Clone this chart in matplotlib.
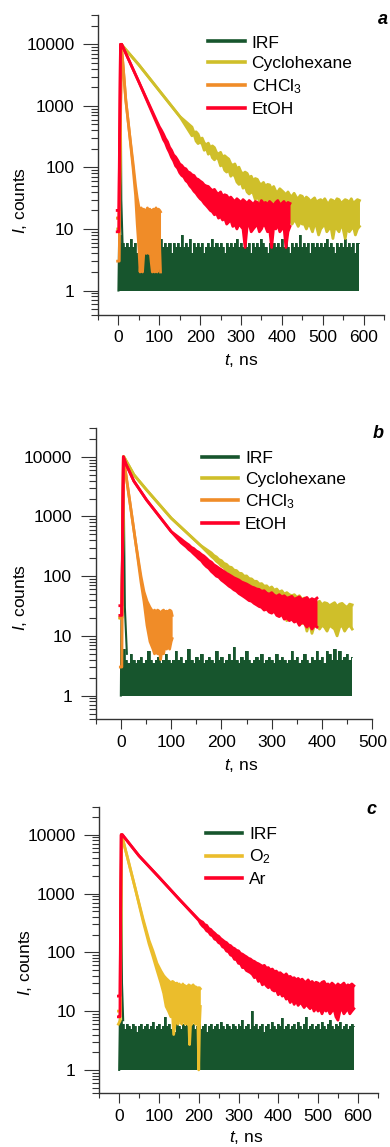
import numpy as np
import matplotlib
matplotlib.use('Agg')
import matplotlib.pyplot as plt
from matplotlib.ticker import MultipleLocator, LogLocator, NullFormatter, FixedLocator, FixedFormatter

plt.rcParams['font.family'] = ['Liberation Sans', 'DejaVu Sans']
plt.rcParams['mathtext.fontset'] = 'custom'
plt.rcParams['mathtext.rm'] = 'Liberation Sans'
plt.rcParams['mathtext.it'] = 'Liberation Sans:italic'
plt.rcParams['mathtext.bf'] = 'Liberation Sans:bold'

FS = 12.5

# colours
C_IRF = '#17552d'
C_CYC = '#cfbf2a'
C_CHCL3 = '#f08c28'
C_ETOH = '#ff0028'
C_O2 = '#ebbd2c'
C_AR = '#ff0028'

# ---------------- panel a ----------------
# IRF upper edge every 5 ns from 0 to 590 ns (lower edge is 1 count)
irf_a_hi = [3, 8, 6, 5, 6, 5, 7, 5, 6, 4, 5, 6, 5, 7, 5, 6, 5, 4, 6, 5,
            6, 7, 5, 6, 5, 6, 4, 6, 5, 6, 5, 8, 5, 6, 5, 7, 4, 6, 5, 6,
            5, 6, 4, 5, 6, 5, 7, 5, 6, 5, 6, 5, 4, 6, 5, 6, 5, 6, 7, 5,
            6, 5, 9, 5, 6, 4, 6, 5, 6, 5, 7, 6, 5, 4, 6, 5, 6, 5, 6, 5,
            7, 5, 6, 5, 4, 6, 5, 6, 5, 8, 5, 6, 5, 6, 4, 6, 5, 6, 5, 6,
            5, 6, 7, 5, 6, 5, 4, 6, 5, 6, 5, 7, 5, 6, 5, 6, 4, 6, 6]
irf_a_peak_t = [0, 3, 5, 7, 10]
irf_a_peak_v = [1, 30, 10000, 30, 6]

cyc_a_t = [-2, 2, 7, 50, 100, 150,
           180, 185, 190, 195, 200, 205, 210, 215, 220, 225, 230, 235, 240, 245,
           250, 255, 260, 265, 270, 275, 280, 285, 290, 295, 300, 305, 310, 315,
           320, 325, 330, 335, 340, 345, 350, 355, 360, 365, 370, 375, 380, 385,
           390, 395, 400, 405, 410, 415, 420, 425, 430, 435, 440, 445, 450, 455,
           460, 465, 470, 475, 480, 485, 490, 495, 500, 505, 510, 515, 520, 525,
           530, 535, 540, 545, 550, 555, 560, 565, 570, 575, 580, 585, 590]
cyc_a_hi = [15, 15, 10000, 4650, 1770, 675,
            453, 367, 379, 348, 284, 300, 250, 234, 248, 209, 224, 210, 175, 165,
            176, 147, 155, 145, 137, 115, 108, 114, 95, 101, 84, 79, 84, 80,
            68, 72, 61, 66, 64, 55, 53, 57, 49, 53, 52, 44, 49, 41,
            40, 45, 42, 39, 36, 40, 35, 34, 38, 33, 31, 35, 34, 29,
            33, 31, 28, 30, 32, 27, 29, 30, 28, 31, 27, 26, 30, 29,
            27, 31, 30, 26, 28, 30, 29, 27, 31, 26, 28, 30, 29]
cyc_a_lo = [10, 10, 10000, 4650, 1770, 675,
            327, 348, 269, 244, 259, 240, 190, 207, 164, 180, 144, 133, 146, 135,
            106, 114, 90, 84, 92, 72, 78, 72, 58, 53, 58, 46, 50, 40,
            37, 40, 38, 30, 35, 28, 30, 24, 23, 25, 24, 19, 22, 17.5,
            20, 16, 16, 14, 15, 13, 15, 12, 14, 13, 11, 13, 12, 12,
            10, 12, 11, 9, 12, 11, 8, 10, 11, 12, 9, 10, 11, 7,
            11, 10, 9, 12, 10, 7, 11, 9, 10, 11, 8, 10, 11]

chcl3_a_t = [-2, 2, 7, 12, 18, 27, 36, 42, 46, 50, 53, 56, 59, 62, 65, 68, 71, 74,
             77, 80, 83, 86, 89, 92, 95, 98, 101, 103]
chcl3_a_hi = [15, 15, 10000, 4000, 1250, 360, 115, 50, 32, 23, 20, 22, 19, 21, 18, 20, 22, 19,
              21, 18, 20, 21, 19, 22, 18, 21, 20, 19]
chcl3_a_lo = [3, 3, 10000, 4000, 1250, 360, 95, 35, 12, 5, 2, 4, 2, 4, 5, 4, 6, 4,
              5, 3, 2, 3, 2, 4, 2, 3, 5, 2]

etoh_a_t = [-3, 1, 5, 8, 50,
            100, 105, 110, 115, 120, 125, 130, 135, 140, 145, 150, 155, 160, 165,
            170, 175, 180, 185, 190, 195, 200, 205, 210, 215, 220, 225, 230, 235,
            240, 245, 250, 255, 260, 265, 270, 275, 280, 285, 290, 295, 300, 305,
            310, 315, 320, 325, 330, 335, 340, 345, 350, 355, 360, 365, 370, 375,
            380, 385, 390, 395, 400, 405, 410, 415, 420]
etoh_a_hi = [20, 20, 10000, 10000, 2450,
             460, 405, 350, 296, 262, 214, 190, 160, 148, 131,
             114, 108, 98, 95, 85, 82, 76, 74, 66, 64,
             60, 57, 52, 50, 49, 45, 42, 44, 39, 37,
             40, 34, 36, 35, 31, 33, 30, 28, 31, 29,
             27, 30, 28, 26, 29, 27, 25, 28, 27, 24,
             29, 26, 27, 25, 28, 26, 24, 27, 29, 25,
             26, 28, 25, 27, 26]
etoh_a_lo = [9, 9, 10000, 10000, 2450,
             420, 350, 285, 250, 205, 176, 146, 128, 106, 97,
             82, 74, 70, 61, 57, 50, 46, 41, 38, 34,
             31, 29, 26, 24, 22, 20, 19, 17, 18, 15,
             16, 14, 15, 12, 13, 14, 11, 12, 10, 12,
             11, 10, 5, 11, 12, 9, 10, 11, 12, 9,
             10, 12, 11, 9, 10, 5, 11, 10, 12, 9,
             10, 11, 5, 9, 11]

# ---------------- panel b ----------------
irf_b_hi = [3, 6, 4, 3.5, 5, 4, 3.5, 4, 4.5, 3.5, 4, 5.5, 4, 3.5, 4, 4.5, 3.5, 4, 5, 4,
            3.5, 4, 5.5, 4, 4.5, 3.5, 4, 6, 4, 3.5, 4.5, 4, 5, 3.5, 4, 4.5, 4, 3.5, 5.5, 4,
            4.5, 3.5, 4, 5, 4, 6.5, 4, 3.5, 4.5, 4, 5.5, 4, 3.5, 4, 4.5, 4, 5, 3.5, 4, 4.5,
            4, 3.5, 5, 4, 4.5, 4, 3.5, 4, 5.5, 4, 4.5, 3.5, 4, 5, 4, 3.5, 4.5, 4, 5.5, 4,
            4.5, 3.5, 5.5, 5, 4, 6, 4, 5.5, 4, 4.5, 5, 4, 4.5]
irf_b_peak_t = [0, 2, 5, 8, 12]
irf_b_peak_v = [1, 100, 10000, 30, 5]

cyc_b_t = [-2, 2, 6, 26, 51, 100, 158,
           180, 185, 190, 195, 200, 205, 210, 215, 220, 225, 230, 235, 240, 245,
           250, 255, 260, 265, 270, 275, 280, 285, 290, 295, 300, 305, 310, 315,
           320, 325, 330, 335, 340, 345, 350, 355, 360, 365, 370, 375, 380, 385,
           390, 395, 400, 405, 410, 415, 420, 425, 430, 435, 440, 445, 450, 455, 460]
cyc_b_hi = [20, 20, 10000, 5000, 2800, 940, 330,
            245, 222, 210, 190, 182, 164, 158, 143, 140, 126,
            124, 112, 111, 100, 101, 91, 90, 82, 82, 74,
            75, 68, 69, 62, 66, 58, 61, 54, 57, 50,
            53, 49, 47, 49, 44, 47, 41, 43, 40, 38,
            40, 36, 35, 38, 33, 36, 35, 32, 34, 36,
            31, 34, 35, 32, 30, 34, 33]
cyc_b_lo = [20, 20, 10000, 5000, 2800, 940, 330,
            215, 198, 178, 165, 148, 140, 123, 118, 106, 102,
            93, 90, 80, 78, 70, 68, 60, 60, 53, 53,
            46, 47, 41, 43, 36, 38, 32, 34, 27, 30,
            18, 26, 22, 23, 19, 20, 16, 18, 12, 17,
            11, 15, 16, 13, 15, 14, 12, 15, 14, 13,
            10, 14, 15, 12, 14, 15, 13]

chcl3_b_t = [-1, 2, 5, 10, 20, 30, 40, 46, 52, 58, 64, 67, 70, 73, 76, 79, 82, 85,
             88, 91, 94, 97, 100, 102]
chcl3_b_hi = [20, 20, 10000, 5100, 1320, 340, 100, 55, 38, 30, 25, 27, 24, 27, 26, 23,
              26, 27, 24, 26, 25, 27, 26, 22]
chcl3_b_lo = [3, 3, 10000, 5100, 1320, 340, 80, 38, 15, 8, 6, 5, 7, 5, 6, 4,
              6, 5, 7, 6, 7, 6, 8, 9]

etoh_b_t = [-2, 2, 5, 10, 26, 51, 100,
            120, 125, 130, 135, 140, 145, 150, 155, 160, 165, 170, 175, 180, 185,
            190, 195, 200, 205, 210, 215, 220, 225, 230, 235, 240, 245, 250, 255,
            260, 265, 270, 275, 280, 285, 290, 295, 300, 305, 310, 315, 320, 325,
            330, 335, 340, 345, 350, 355, 360, 365, 370, 375, 380, 385, 390]
etoh_b_hi = [32, 32, 10000, 7600, 3900, 1900, 560,
             417, 385, 358, 335, 305, 290, 266, 252, 232, 218,
             200, 182, 172, 155, 146, 136, 128, 120, 112, 106,
             100, 94, 90, 86, 80, 77, 74, 70, 66, 64,
             61, 60, 56, 57, 52, 50, 53, 48, 46, 49,
             45, 47, 43, 44, 46, 41, 43, 45, 40, 42,
             44, 39, 42, 40, 43]
etoh_b_lo = [22, 22, 10000, 7600, 3900, 1900, 560,
             363, 335, 310, 280, 260, 236, 216, 196, 182, 160,
             145, 135, 120, 110, 100, 96, 86, 80, 74, 68,
             64, 59, 56, 51, 48, 45, 42, 39, 38, 35,
             33, 31, 30, 27, 28, 25, 24, 26, 22, 21,
             23, 19, 20, 18, 19, 17, 18, 15, 17, 16,
             14, 16, 13, 15, 14]

# ---------------- panel c ----------------
irf_c_hi = [7, 7, 6, 5, 6, 5.5, 5, 6, 5.5, 4.5, 5.5, 6, 5, 5.5, 6, 5, 5.5, 6.5, 5, 5.5,
            6, 5, 5.5, 8, 5.5, 6, 5, 5.5, 4.5, 6, 5.5, 5, 6, 5.5, 7, 5, 5.5, 6, 5, 5.5,
            6, 5, 5.5, 6, 4.5, 5.5, 6, 5, 5.5, 6, 5, 6.5, 5.5, 5, 6, 5.5, 5, 6, 5.5, 5,
            6, 5.5, 7, 5, 5.5, 6, 5, 10, 5.5, 6, 5, 5.5, 6, 4.5, 5.5, 6, 5, 6.5, 5.5, 5,
            6, 5.5, 7.5, 5, 5.5, 6, 5, 5.5, 6, 5, 6.5, 5.5, 5, 6, 8, 5, 5.5, 6, 5, 5.5,
            6, 5, 6.5, 5.5, 5, 6, 7, 5.5, 5, 6, 5.5, 6.5, 5, 5.5, 6, 5, 5.5, 6, 5.5]
irf_c_peak_t = [0, 3, 5, 7, 10]
irf_c_peak_v = [1, 30, 10000, 30, 7]

o2_c_t = [-2, 3, 6, 20, 40, 60, 75, 85, 95, 105, 112, 118, 124, 130, 134, 137, 142,
          145, 148, 151, 154, 157, 160, 163, 166, 169, 172, 175, 177, 180, 183, 186,
          189, 192, 195, 198, 200, 202, 204]
o2_c_hi = [10, 10, 10000, 4300, 1250, 370, 160, 105, 65, 48, 40, 36, 33, 30, 32, 31, 28,
           30, 26, 29, 27, 25, 29, 26, 27, 25, 26, 28, 24, 27, 25, 28, 25, 26, 24,
           25, 24, 25, 24]
o2_c_lo = [6, 7, 10000, 4300, 1250, 340, 140, 85, 50, 30, 20, 12, 10, 8, 9, 4, 7,
           8, 6, 9, 8, 6, 8, 7, 6, 8, 6, 7, 2.7, 7, 6, 8, 7, 6, 7,
           6, 1, 6, 12]

ar_c_t = [-2, 2, 5, 8, 50, 100, 150,
          200, 205, 210, 215, 220, 225, 230, 235, 240, 245, 250, 255, 260, 265,
          270, 275, 280, 285, 290, 295, 300, 305, 310, 315, 320, 325, 330, 335,
          340, 345, 350, 355, 360, 365, 370, 375, 380, 385, 390, 395, 400, 405,
          410, 415, 420, 425, 430, 435, 440, 445, 450, 455, 460, 465, 470, 475,
          480, 485, 490, 495, 500, 505, 510, 515, 520, 525, 530, 535, 540, 545,
          550, 555, 560, 565, 570, 575, 580, 585, 590]
ar_c_hi = [18, 18, 10000, 10000, 4370, 1900, 813,
           360, 340, 326, 296, 288, 255, 246, 226, 212, 196,
           188, 172, 162, 152, 146, 134, 130, 120, 116, 108,
           106, 96, 93, 88, 84, 79, 77, 72, 70, 66,
           64, 61, 58, 60, 54, 55, 50, 52, 47, 48,
           44, 45, 42, 40, 43, 38, 39, 36, 37, 34,
           36, 33, 35, 32, 31, 34, 30, 32, 29, 31,
           30, 28, 31, 32, 28, 29, 27, 30, 28, 26,
           29, 27, 28, 30, 26, 28, 27, 29, 27]
ar_c_lo = [8, 8, 10000, 10000, 4370, 1900, 813,
           350, 305, 278, 260, 232, 222, 198, 190, 168, 162,
           146, 140, 124, 119, 105, 102, 90, 87, 76, 75,
           65, 64, 55, 55, 49, 47, 45, 42, 37, 39,
           32, 34, 28, 30, 27, 25, 27, 23, 22, 23,
           19, 21, 18, 19, 16, 17, 14, 16, 13, 15,
           12.5, 14, 13, 11.5, 13, 12, 11, 12.5, 10, 11.5,
           10, 11, 9, 11, 10, 11, 9, 10, 11, 8,
           7, 10, 11, 9, 10, 11, 9, 10, 11]


def draw_band(ax, t, lo, hi, color, z, label=None, lw=2.0):
    ax.fill_between(t, lo, hi, color=color, lw=0, zorder=z)
    ax.plot(t, hi, color=color, lw=lw, solid_joinstyle='round', label=label, zorder=z)
    ax.plot(t, lo, color=color, lw=lw, solid_joinstyle='round', zorder=z)


def draw_irf(ax, hi, peak_t, peak_v):
    t = np.arange(len(hi)) * 5
    ax.fill_between(t, 1, hi, step='mid', color=C_IRF, lw=0, zorder=2)
    ax.plot(t, hi, color=C_IRF, lw=0.6, drawstyle='steps-mid', label='IRF', zorder=2)
    ax.plot(peak_t, peak_v, color=C_IRF, lw=1.5, zorder=2)


def style_axes(ax, xmax):
    ax.set_yscale('log')
    ax.set_ylim(0.4, 30000)
    ax.set_xlim(-50, xmax)
    ax.yaxis.set_major_locator(FixedLocator([1, 10, 100, 1000, 10000]))
    ax.yaxis.set_major_formatter(FixedFormatter(['1', '10', '100', '1000', '10000']))
    ax.yaxis.set_minor_locator(LogLocator(base=10, subs=np.arange(2, 10), numticks=20))
    ax.yaxis.set_minor_formatter(NullFormatter())
    ax.xaxis.set_major_locator(MultipleLocator(100))
    ax.xaxis.set_minor_locator(MultipleLocator(50))
    for s in ['top', 'right']:
        ax.spines[s].set_visible(False)
    for s in ['left', 'bottom']:
        ax.spines[s].set_linewidth(1.0)
        ax.spines[s].set_color('#333333')
    ax.tick_params(axis='y', which='major', length=11, width=0.8, pad=6,
                   color='#333333', labelsize=FS)
    ax.tick_params(axis='y', which='minor', length=5, width=0.8, color='#333333')
    ax.tick_params(axis='x', which='major', length=7, width=0.8, pad=4,
                   color='#333333', labelsize=FS)
    ax.tick_params(axis='x', which='minor', length=3.5, width=0.8, color='#333333')
    ax.set_ylabel('$I$, counts', fontsize=FS)
    ax.set_xlabel('$t$, ns', fontsize=FS)


def add_legend(ax, x, y):
    leg = ax.legend(loc='upper left', bbox_to_anchor=(x, y), frameon=False,
                    fontsize=FS, handlelength=2.1, handletextpad=0.4,
                    labelspacing=0.33, borderpad=0, borderaxespad=0)
    for line in leg.get_lines():
        line.set_linewidth(2.6)
        line.set_drawstyle('default')


W, H = 390, 1147
fig = plt.figure(figsize=(W / 100, H / 100), dpi=100)

# panel a
ax_a = fig.add_axes([98 / W, 1 - 315 / H, 286 / W, 300 / H])
draw_irf(ax_a, irf_a_hi, irf_a_peak_t, irf_a_peak_v)
draw_band(ax_a, cyc_a_t, cyc_a_lo, cyc_a_hi, C_CYC, 3, 'Cyclohexane')
draw_band(ax_a, chcl3_a_t, chcl3_a_lo, chcl3_a_hi, C_CHCL3, 4, 'CHCl$_3$')
draw_band(ax_a, etoh_a_t, etoh_a_lo, etoh_a_hi, C_ETOH, 5, 'EtOH')
style_axes(ax_a, 650)
add_legend(ax_a, 0.385, 0.932)
ax_a.yaxis.set_label_coords(-0.24, 0.383)
ax_a.xaxis.set_label_coords(0.5, -0.123)

# panel b
ax_b = fig.add_axes([95.7 / W, 1 - 719.3 / H, 276.6 / W, 291 / H])
draw_irf(ax_b, irf_b_hi, irf_b_peak_t, irf_b_peak_v)
draw_band(ax_b, cyc_b_t, cyc_b_lo, cyc_b_hi, C_CYC, 3, 'Cyclohexane')
draw_band(ax_b, chcl3_b_t, chcl3_b_lo, chcl3_b_hi, C_CHCL3, 4, 'CHCl$_3$')
draw_band(ax_b, etoh_b_t, etoh_b_lo, etoh_b_hi, C_ETOH, 5, 'EtOH')
style_axes(ax_b, 500)
add_legend(ax_b, 0.383, 0.923)
ax_b.yaxis.set_label_coords(-0.24, 0.42)
ax_b.xaxis.set_label_coords(0.525, -0.13)

# panel c
ax_c = fig.add_axes([99.3 / W, 1 - 1093.3 / H, 278.4 / W, 286.6 / H])
draw_irf(ax_c, irf_c_hi, irf_c_peak_t, irf_c_peak_v)
draw_band(ax_c, o2_c_t, o2_c_lo, o2_c_hi, C_O2, 3, 'O$_2$')
draw_band(ax_c, ar_c_t, ar_c_lo, ar_c_hi, C_AR, 4, 'Ar')
style_axes(ax_c, 650)
add_legend(ax_c, 0.383, 0.930)
ax_c.yaxis.set_label_coords(-0.235, 0.455)
ax_c.xaxis.set_label_coords(0.527, -0.125)

# panel letters
for letter, (px, py) in zip('abc', [(388, 20), (384, 433), (376, 809)]):
    fig.text(px / W, 1 - py / H, letter, ha='right', va='center',
             fontsize=13, fontweight='bold', fontstyle='italic')

fig.savefig('out.png', dpi=100)
